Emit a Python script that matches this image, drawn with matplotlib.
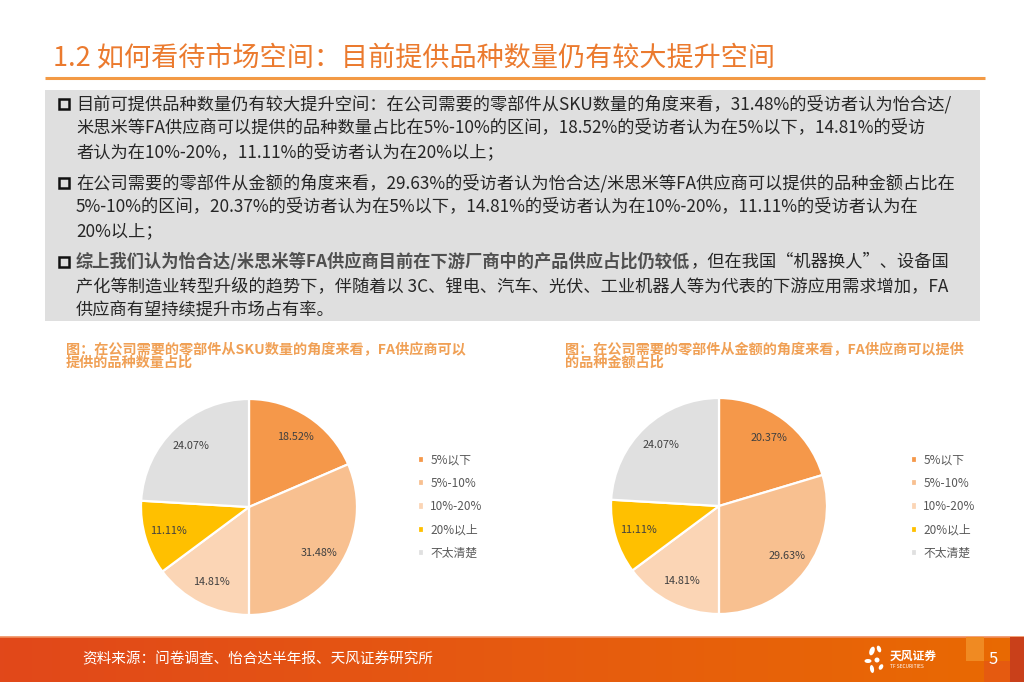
import numpy as np
import matplotlib
matplotlib.use("Agg")
import matplotlib.pyplot as plt
from matplotlib.patches import Rectangle, Ellipse
from matplotlib.colors import LinearSegmentedColormap

plt.rcParams['font.family'] = ['Noto Sans CJK SC', 'DejaVu Sans']

# data
categories = ['5%以下', '5%-10%', '10%-20%', '20%以上', '不太清楚']
sku_share = [18.52, 31.48, 14.81, 11.11, 24.07]
amount_share = [20.37, 29.63, 14.81, 11.11, 24.07]
pie_colors = ['#F5984A', '#F8C090', '#FBD5B5', '#FFC000', '#E0E0E0']

title = '1.2 如何看待市场空间：目前提供品种数量仍有较大提升空间'
bullets = [
    ['目前可提供品种数量仍有较大提升空间：在公司需要的零部件从SKU数量的角度来看，31.48%的受访者认为怡合达/',
     '米思米等FA供应商可以提供的品种数量占比在5%-10%的区间，18.52%的受访者认为在5%以下，14.81%的受访',
     '者认为在10%-20%，11.11%的受访者认为在20%以上；'],
    ['在公司需要的零部件从金额的角度来看，29.63%的受访者认为怡合达/米思米等FA供应商可以提供的品种金额占比在',
     '5%-10%的区间，20.37%的受访者认为在5%以下，14.81%的受访者认为在10%-20%，11.11%的受访者认为在',
     '20%以上；'],
    ['综上我们认为怡合达/米思米等FA供应商目前在下游厂商中的产品供应占比仍较低|，但在我国“机器换人”、设备国',
     '产化等制造业转型升级的趋势下，伴随着以 3C、锂电、汽车、光伏、工业机器人等为代表的下游应用需求增加，FA',
     '供应商有望持续提升市场占有率。'],
]
chart_titles = [
    ['图：在公司需要的零部件从SKU数量的角度来看，FA供应商可以', '提供的品种数量占比'],
    ['图：在公司需要的零部件从金额的角度来看，FA供应商可以提供', '的品种金额占比'],
]
source = '资料来源：问卷调查、怡合达半年报、天风证券研究所'
page_no = '5'

W, H = 1024, 682
fig = plt.figure(figsize=(W / 100, H / 100), dpi=100)
fig.patch.set_facecolor('white')

bg = fig.add_axes([0, 0, 1, 1])
bg.set_xlim(0, W)
bg.set_ylim(H, 0)
bg.axis('off')

# title and rule
bg.text(53, 59, title, fontsize=19.5, color='#EB7A2E', va='center', ha='left')
bg.plot([45, 985], [78, 78], color='#F39A45', lw=2.2, solid_capstyle='butt')

# grey text box
bg.add_patch(Rectangle((45, 90), 935, 231, facecolor='#DFDFDF', edgecolor='none'))

text_color = '#262626'
y0 = [104, 183, 262]
for b, lines in enumerate(bullets):
    bg.add_patch(Rectangle((59, y0[b] - 5), 10, 10, facecolor='none',
                           edgecolor='#111111', lw=1.8))
    for i, line in enumerate(lines):
        y = y0[b] + i * 24
        if '|' in line:
            first, rest = line.split('|')
            t1 = bg.text(76, y, first, fontsize=12.4, color='#505050',
                         fontweight='bold', va='center', ha='left')
            bg.annotate(rest, xy=(1, 0.5), xycoords=t1, fontsize=12.4,
                        color=text_color, va='center', ha='left')
        else:
            bg.text(76, y, line, fontsize=12.4, color=text_color,
                    va='center', ha='left')

# chart titles
for (x, lines) in zip([66, 565], chart_titles):
    bg.text(x, 350, lines[0], fontsize=10.2, color='#F0A055', fontweight='bold',
            va='center', ha='left')
    bg.text(x, 363, lines[1], fontsize=10.2, color='#F0A055', fontweight='bold',
            va='center', ha='left')

# pies
R = 108
centers = [(249, 507), (719, 506)]
legend_x = [412, 905]
for (cx, cy), vals, lx in zip(centers, [sku_share, amount_share], legend_x):
    ax = fig.add_axes([(cx - R) / W, (H - cy - R) / H, 2 * R / W, 2 * R / H])
    wedges, texts, autotexts = ax.pie(
        vals, colors=pie_colors, startangle=90, counterclock=False,
        autopct='%.2f%%', pctdistance=0.78,
        wedgeprops=dict(edgecolor='white', linewidth=1.6),
        textprops=dict(fontsize=7.8, color='#404040'))
    ax.set_xlim(-1, 1)
    ax.set_ylim(-1, 1)
    ax.set_aspect('equal')
    ax.legend(wedges, categories, loc='upper left', frameon=False,
              bbox_to_anchor=(lx / W, 1 - 448 / H), bbox_transform=fig.transFigure,
              fontsize=8.5, handlelength=0.55, handleheight=0.55, handletextpad=0.5,
              labelspacing=0.86, borderpad=0, labelcolor='#595959')

# footer band
cmap = LinearSegmentedColormap.from_list('foot', ['#E1481A', '#E65A10', '#E96A02'])
grad = np.linspace(0, 1, 256).reshape(1, -1)
bg.imshow(grad, cmap=cmap, extent=[0, W, H, 637], aspect='auto', zorder=1)
bg.plot([0, W], [637, 637], color='#F09060', lw=1.2, zorder=2)
bg.add_patch(Rectangle((966, 637), 18, 24, facecolor='#F08A22', edgecolor='none', zorder=2))
bg.add_patch(Rectangle((984, 661), 26, 21, facecolor='#E55A10', edgecolor='none', zorder=2))
bg.add_patch(Rectangle((1010, 637), 14, 45, facecolor='#C9401A', edgecolor='none', zorder=2))
bg.set_xlim(0, W)
bg.set_ylim(H, 0)

bg.text(82, 659, source, fontsize=10.5, color='white', va='center', ha='left', zorder=3)
bg.text(993, 659, page_no, fontsize=12, color='white', va='center', ha='center', zorder=3)

# logo
for (ex, ey, w, h, a) in [(872, 651, 5, 9, 20), (879, 649, 4, 7, -20), (868, 661, 7, 4, 0),
                          (877, 660, 5, 5, 0), (872, 669, 4, 8, -10), (881, 667, 4, 6, 30)]:
    bg.add_patch(Ellipse((ex, ey), w, h, angle=a, facecolor='white', edgecolor='none', zorder=3))
bg.text(890, 656, '天风证券', fontsize=8.5, fontweight='bold', color='white',
        va='center', ha='left', zorder=3)
bg.text(890, 667, 'TF SECURITIES', fontsize=3.5, color='white', va='center', ha='left', zorder=3)

fig.savefig('out.png', dpi=100, facecolor='white')
